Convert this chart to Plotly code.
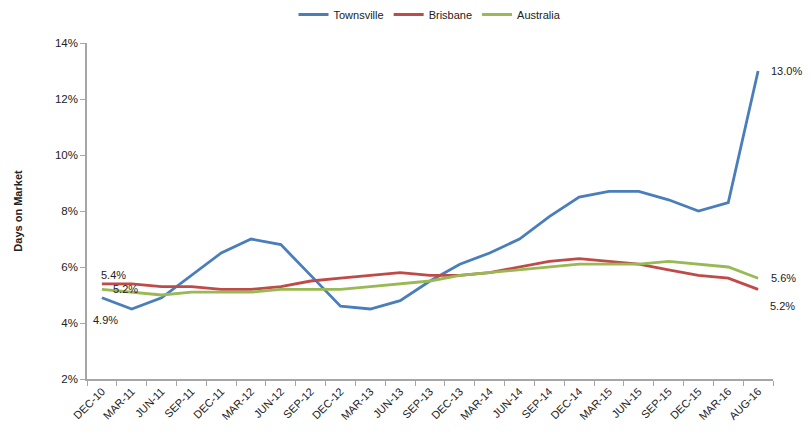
import plotly.graph_objects as go

categories = ["DEC-10", "MAR-11", "JUN-11", "SEP-11", "DEC-11", "MAR-12", "JUN-12", "SEP-12",
              "DEC-12", "MAR-13", "JUN-13", "SEP-13", "DEC-13", "MAR-14", "JUN-14", "SEP-14",
              "DEC-14", "MAR-15", "JUN-15", "SEP-15", "DEC-15", "MAR-16", "AUG-16"]

townsville = [4.9, 4.5, 4.9, 5.7, 6.5, 7.0, 6.8, 5.7, 4.6, 4.5, 4.8, 5.5, 6.1, 6.5, 7.0, 7.8,
              8.5, 8.7, 8.7, 8.4, 8.0, 8.3, 13.0]
brisbane = [5.4, 5.4, 5.3, 5.3, 5.2, 5.2, 5.3, 5.5, 5.6, 5.7, 5.8, 5.7, 5.7, 5.8, 6.0, 6.2,
            6.3, 6.2, 6.1, 5.9, 5.7, 5.6, 5.2]
australia = [5.2, 5.1, 5.0, 5.1, 5.1, 5.1, 5.2, 5.2, 5.2, 5.3, 5.4, 5.5, 5.7, 5.8, 5.9, 6.0,
             6.1, 6.1, 6.1, 6.2, 6.1, 6.0, 5.6]

y_ticks = [2, 4, 6, 8, 10, 12, 14]

FONT = "Liberation Sans"
series = [("Townsville", townsville, "#4A7EBB"),
          ("Brisbane", brisbane, "#BE4B48"),
          ("Australia", australia, "#98B954")]

fig = go.Figure()
for name, vals, col in series:
    fig.add_trace(go.Scatter(x=categories, y=vals, mode="lines", name=name,
                             line=dict(color=col, width=2.8)))

# data labels: (series values, index, xshift, yshift)
labels = [
    (townsville, 0, 4, -22),
    (brisbane, 0, 12, 9),
    (australia, 0, 24, 0),
    (townsville, 22, 28, 0),
    (australia, 22, 25, 0),
    (brisbane, 22, 24, -17),
]
for vals, i, xs, ys in labels:
    fig.add_annotation(x=categories[i], y=vals[i], text=f"{vals[i]:.1f}%", showarrow=False,
                       xshift=xs, yshift=ys, font=dict(family=FONT, size=11, color="#222"))

fig.update_layout(
    width=811, height=439,
    margin=dict(l=87, r=38, t=43, b=60, autoexpand=False),
    plot_bgcolor="white", paper_bgcolor="white",
    font=dict(family=FONT, size=11, color="#222"),
    legend=dict(orientation="h", x=0.5, xanchor="center", y=1.0, yanchor="top",
                yref="container", font=dict(size=11)),
    showlegend=True,
)
fig.update_xaxes(type="category", range=[-0.5, 22.5], tickangle=-45, ticks="outside",
                 tickson="boundaries", ticklen=5, tickcolor="#A6A6A6",
                 showline=True, linecolor="#A6A6A6", linewidth=1.5, showgrid=False,
                 tickfont=dict(size=11))
fig.update_yaxes(range=[2, 14], tickvals=y_ticks, ticktext=[f"{v}%" for v in y_ticks],
                 ticks="outside", ticklen=5, tickcolor="#A6A6A6",
                 showline=True, linecolor="#A6A6A6", linewidth=1.5, showgrid=False,
                 zeroline=False, tickfont=dict(size=11.5),
                 title=dict(text="<b>Days on Market</b>", font=dict(size=11), standoff=30))

fig.write_html("out.html")
